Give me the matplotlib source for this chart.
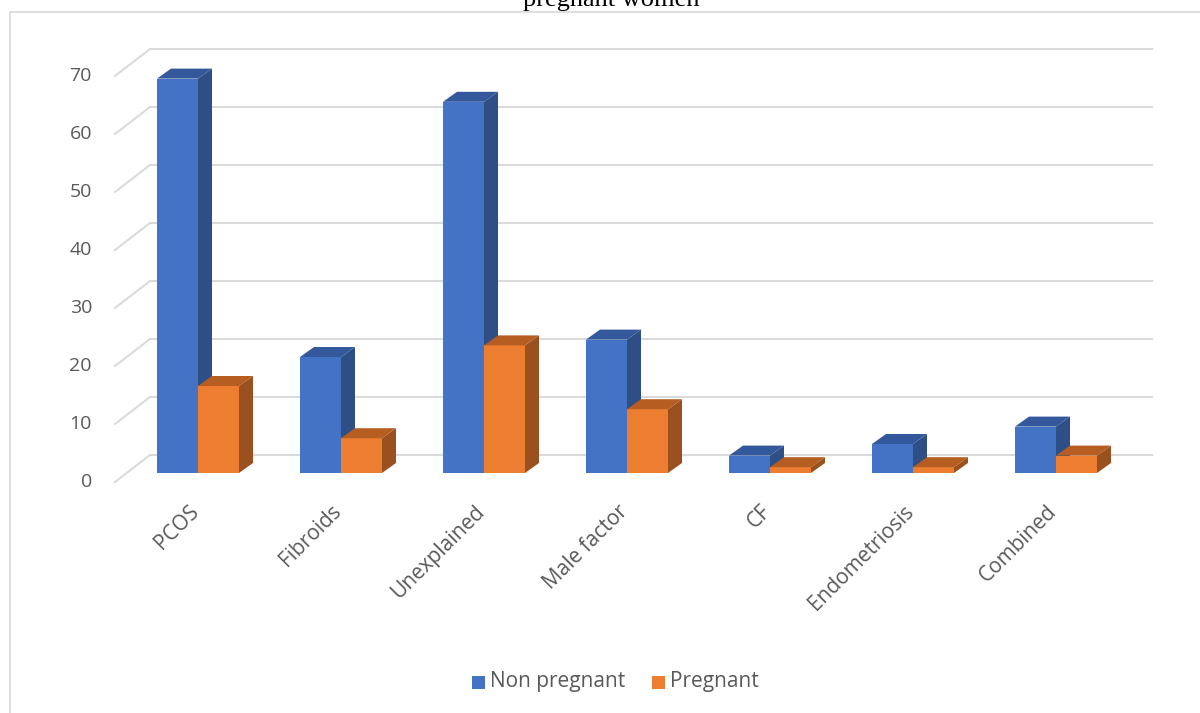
import matplotlib
matplotlib.use("Agg")
import matplotlib.pyplot as plt
from matplotlib.patches import Polygon, Rectangle
import numpy as np

categories = ["PCOS", "Fibroids", "Unexplained", "Male factor", "CF", "Endometriosis", "Combined"]
non_pregnant = [68, 20, 64, 23, 3, 5, 8]
pregnant = [15, 6, 22, 11, 1, 1, 3]
series_names = ["Non pregnant", "Pregnant"]
yticks = [0, 10, 20, 30, 40, 50, 60, 70]

W, H = 1200, 713
fig = plt.figure(figsize=(W / 100, H / 100), dpi=100)
ax = fig.add_axes([0, 0, 1, 1])
# pixel mapping: category i center at px 198+143i ; value v at px-from-top 473-5.8v
PXC, PXS = 198.0, 143.0
PY0, PYS = 473.0, 5.8
ax.set_xlim(-PXC / PXS, (W - PXC) / PXS)
ax.set_ylim(-(H - PY0) / PYS, PY0 / PYS)
ax.axis("off")

def px(dx):
    return dx / PXS

def py(dy):
    return dy / PYS

txt_color = "#595959"
grid_color = "#d9d9d9"
font = "Open Sans"

# gridlines: back wall + left wall diagonals
x_front = px(115 - PXC)
x_back = px(150 - PXC)
x_right = px(1152 - PXC)
front_off = -py(9)
back_off = py(18)
for v in yticks:
    ax.plot([x_back, x_right], [v + back_off, v + back_off], color=grid_color, lw=1.4, zorder=1)
    ax.plot([x_front, x_back], [v + front_off, v + back_off], color=grid_color, lw=1.4, zorder=1)
    ax.text(px(92 - PXC), v + front_off, str(v), ha="right", va="center",
            fontsize=14, color=txt_color, family=font)

bw = px(41)
ddx, ddy = px(14), py(10)
styles = [
    dict(front="#4472C4", side="#2E4E86", top="#33589B"),
    dict(front="#ED7D31", side="#9B511F", top="#B65D22"),
]
x = np.arange(len(categories))
for s, (vals, st) in enumerate(zip([non_pregnant, pregnant], styles)):
    for i, v in enumerate(vals):
        x0 = x[i] - bw + s * bw
        x1 = x0 + bw
        z = 3 + i * 2 + s
        ax.bar(x0, v, width=bw, align="edge", color=st["front"], edgecolor="none", zorder=z)
        ax.add_patch(Polygon([(x1, 0), (x1 + ddx, ddy), (x1 + ddx, v + ddy), (x1, v)],
                             closed=True, facecolor=st["side"], edgecolor="none", zorder=z))
        ax.add_patch(Polygon([(x0, v), (x1, v), (x1 + ddx, v + ddy), (x0 + ddx, v + ddy)],
                             closed=True, facecolor=st["top"], edgecolor="none", zorder=z))

# category labels
for i, c in enumerate(categories):
    ax.text(x[i] - px(10), -py(28), c, rotation=45, rotation_mode="anchor",
            ha="right", va="top", fontsize=15, color=txt_color, family=font)

# legend
ly = -py(682 - PY0)
sq = 13
for (xs, name, st) in [(472, series_names[0], styles[0]), (652, series_names[1], styles[1])]:
    ax.add_patch(Rectangle((px(xs - PXC), ly - py(sq / 2)), px(sq), py(sq),
                           facecolor=st["front"], edgecolor="none"))
    ax.text(px(xs + sq + 5 - PXC), ly, name, ha="left", va="center",
            fontsize=15, color=txt_color, family=font)

# border and cut title (cut at the top edge, as in the reference)
fig.add_artist(plt.Line2D([10 / W, 1], [1 - 12 / H, 1 - 12 / H], color=grid_color, lw=1.2))
fig.add_artist(plt.Line2D([10 / W, 10 / W], [0, 1 - 12 / H], color=grid_color, lw=1.2))
fig.text(611 / W, 1 - 6 / H, "pregnant women", ha="center", va="baseline",
         fontsize=19, family="Liberation Serif", color="#000000")

fig.savefig("out.png", dpi=100)
